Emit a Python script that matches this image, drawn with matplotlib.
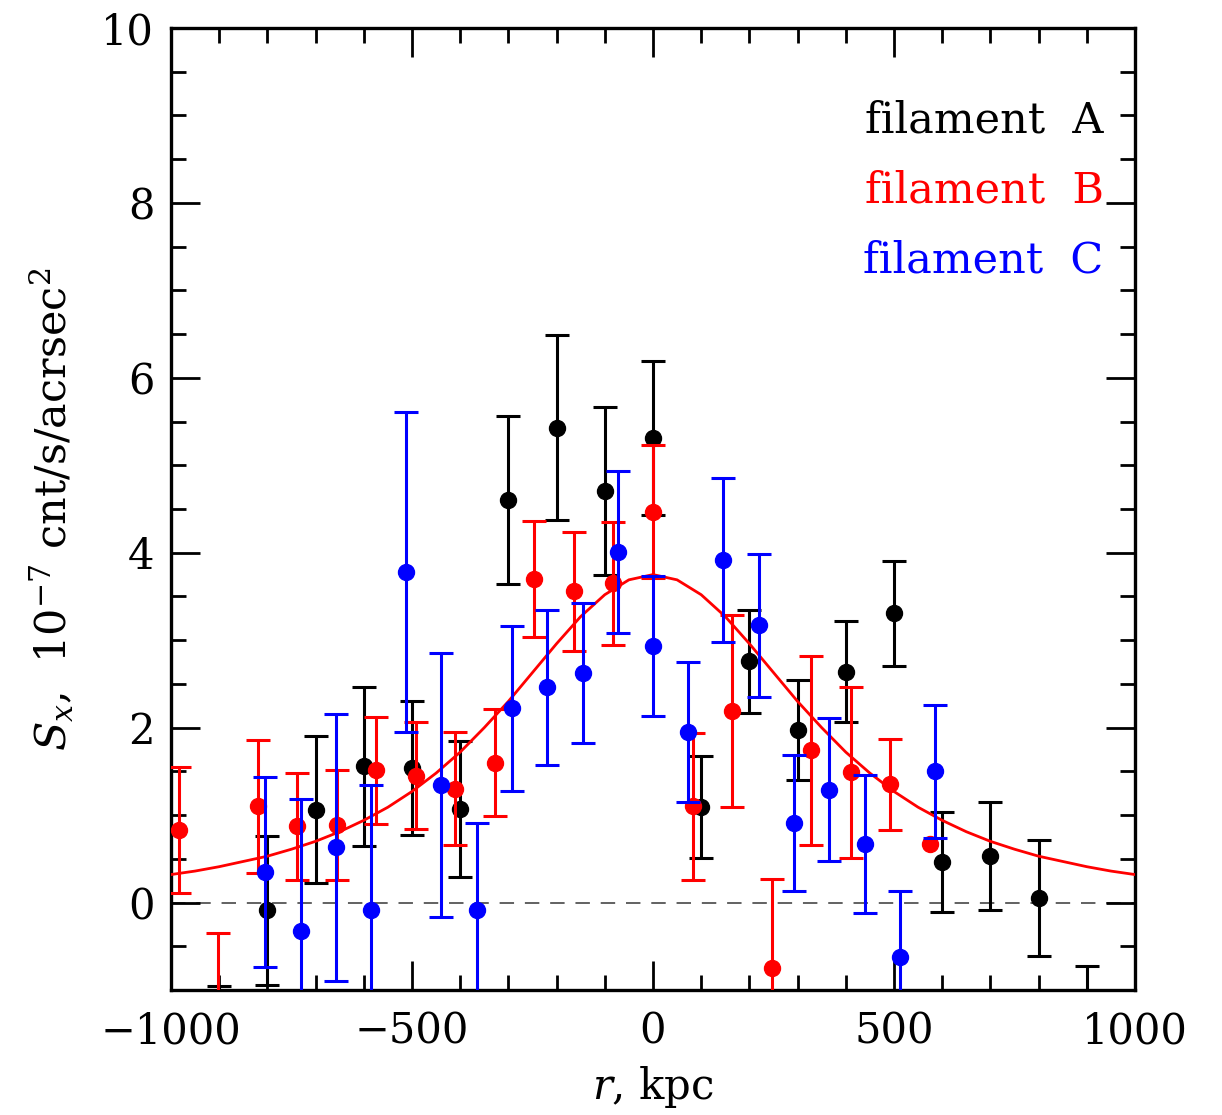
import numpy as np
import matplotlib
matplotlib.use("Agg")
import matplotlib.pyplot as plt
from matplotlib.ticker import MultipleLocator

# ---------------- data ----------------
# filament A (black)
r_A = [-900, -800, -700, -600, -500, -400, -300, -200, -100, 0, 100, 200, 300, 400, 500, 600, 700, 800, 900]
s_A = [-1.80, -0.09, 1.06, 1.56, 1.54, 1.07, 4.60, 5.43, 4.71, 5.31, 1.09, 2.76, 1.97, 2.64, 3.31, 0.46, 0.53, 0.05, -1.40]
e_A = [0.85, 0.85, 0.84, 0.91, 0.77, 0.78, 0.96, 1.06, 0.96, 0.88, 0.58, 0.59, 0.57, 0.575, 0.60, 0.57, 0.615, 0.66, 0.68]

# filament B (red)
r_B = [-984, -902, -820, -738, -656, -574, -492, -410, -328, -246, -164, -82, 0, 82, 164, 246, 328, 410, 492, 574]
s_B = [0.83, -1.20, 1.10, 0.87, 0.89, 1.51, 1.45, 1.30, 1.60, 3.70, 3.56, 3.65, 4.47, 1.10, 2.19, -0.75, 1.74, 1.49, 1.35, 0.67]
e_B = [0.72, 0.85, 0.76, 0.61, 0.63, 0.61, 0.61, 0.645, 0.61, 0.66, 0.68, 0.70, 0.76, 0.84, 1.10, 1.02, 1.08, 0.98, 0.52, np.nan]

# filament C (blue)
r_C = [-804, -731, -658, -585, -512, -439, -366, -292, -219, -146, -73, 0, 73, 146, 219, 292, 366, 439, 512, 585]
s_C = [0.35, -0.33, 0.63, -0.08, 3.78, 1.34, -0.09, 2.22, 2.46, 2.63, 4.01, 2.93, 1.95, 3.92, 3.17, 0.91, 1.29, 0.67, -0.62, 1.50]
e_C = [1.09, 1.51, 1.53, 1.42, 1.83, 1.51, 1.00, 0.94, 0.89, 0.80, 0.93, 0.80, 0.80, 0.94, 0.82, 0.78, 0.82, 0.79, 0.755, 0.76]

# fitted profile (red curve), every 50 kpc
r_fit = [-1000, -950, -900, -850, -800, -750, -700, -650, -600, -550, -500, -450, -400, -350, -300, -250, -200, -150, -100, -50,
         0, 50, 100, 150, 200, 250, 300, 350, 400, 450, 500, 550, 600, 650, 700, 750, 800, 850, 900, 950, 1000]
s_fit = [0.32, 0.36, 0.41, 0.47, 0.53, 0.61, 0.70, 0.81, 0.94, 1.09, 1.27, 1.48, 1.72, 2.00, 2.30, 2.63, 2.96, 3.27, 3.52, 3.69,
         3.75, 3.69, 3.52, 3.27, 2.96, 2.63, 2.30, 2.00, 1.72, 1.48, 1.27, 1.09, 0.94, 0.81, 0.70, 0.61, 0.53, 0.47, 0.41, 0.36, 0.32]

labels = ["filament  A", "filament  B", "filament  C"]
colors = ["black", "red", "blue"]

# ---------------- figure ----------------
plt.rcParams["font.family"] = ["DejaVu Serif"]
plt.rcParams["mathtext.fontset"] = "dejavuserif"

fig = plt.figure(figsize=(12.22, 11.15), dpi=100)
ax = fig.add_axes([0.1399, 0.1121, 0.7889, 0.8628])

ax.axhline(0, color="#555555", lw=1.3, ls=(0, (8, 6)), zorder=1)

ekw = dict(fmt="o", ms=11.5, elinewidth=2.2, capsize=8.5, capthick=2.2, clip_on=True)
ax.errorbar(r_A, s_A, yerr=e_A, color=colors[0], zorder=3, **ekw)
ax.plot(r_fit, s_fit, color="red", lw=2.0, zorder=4)
ax.errorbar(r_B, s_B, yerr=e_B, color=colors[1], zorder=5, **ekw)
ax.errorbar(r_C, s_C, yerr=e_C, color=colors[2], zorder=6, **ekw)

ax.set_xlim(-1000, 1000)
ax.set_ylim(-1, 10)

ax.xaxis.set_major_locator(MultipleLocator(500))
ax.xaxis.set_minor_locator(MultipleLocator(100))
ax.yaxis.set_major_locator(MultipleLocator(2))
ax.yaxis.set_minor_locator(MultipleLocator(0.5))
ax.tick_params(which="both", direction="in", top=True, right=True, width=2.0, labelsize=30)
ax.tick_params(which="major", length=21)
ax.tick_params(which="minor", length=10.5)
ax.tick_params(axis="x", pad=15)
ax.tick_params(axis="y", pad=12)
for sp in ax.spines.values():
    sp.set_linewidth(2.4)

ax.set_xlabel(r"$r$, kpc", fontsize=30, labelpad=8)
ax.set_ylabel(r"$S_x$,  $10^{-7}$ cnt/s/acrsec$^2$", fontsize=31, labelpad=18)

for i, (lab, c) in enumerate(zip(labels, colors)):
    ax.text(0.9675, 0.8915 - i * 0.0728, lab, color=c, fontsize=31,
            ha="right", va="baseline", transform=ax.transAxes, zorder=10)

fig.savefig("out.png", dpi=100)
